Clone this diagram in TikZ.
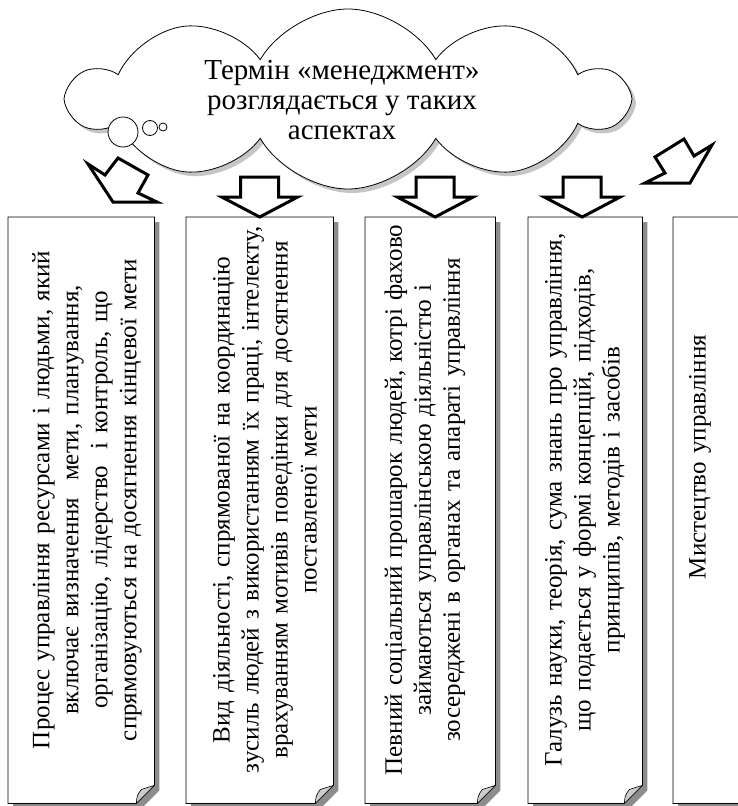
\documentclass[tikz,border=0pt]{standalone}
\usepackage{fontspec}
\setmainfont{Liberation Serif}
\usetikzlibrary{positioning,calc,shapes.symbols,shadows}

\begin{document}
\begin{tikzpicture}[x=1pt,y=-1pt,
    box/.style={minimum height=586, inner sep=0pt, anchor=north west},
    outline/.style={draw=black, line width=0.8pt, fill=white},
    shade/.style={fill=black!45, draw=none},
    flap/.style={draw=black, line width=0.6pt, fill=black!20},
    blockarrow/.style={draw=black, line width=3pt, fill=white, line join=miter},
    bubble/.style={circle, draw=black, line width=0.8pt, fill=white, inner sep=0pt},
    rotext/.style={rotate=90, align=center, text width=570, inner sep=0pt,
                   font=\fontsize{25}{29}\selectfont}]
  \useasboundingbox (0,0) rectangle (738,806);
  \clip (0,0) rectangle (738,806);

  % cloud with the title
  \node[cloud, cloud puffs=10, cloud puff arc=120, cloud ignores aspect,
        minimum width=555, minimum height=180, draw=black, line width=0.8pt,
        fill=white, drop shadow={shadow xshift=4pt, shadow yshift=-4pt, fill=black!45}]
        (cl) at (348,99) {};
  \node[align=center, font=\fontsize{29}{30}\selectfont] (ttl) at ($(cl.center)+(-6,1)$)
        {Термін «менеджмент»\\ розглядається у таких\\ аспектах};
  \node[bubble, minimum size=30] (c1) at (123,132) {};
  \node[bubble, minimum size=15] (c2) at (150,128) {};
  \node[bubble, minimum size=8]  (c3) at (163,127) {};

  % boxes
  \node[box, minimum width=146] (b1) at (8,217)   {};
  \node[box, minimum width=147] (b2) at (186,217) {};
  \node[box, minimum width=130] (b3) at (365,217) {};
  \node[box, minimum width=114] (b4) at (528,217) {};
  \node[box, minimum width=127] (b5) at (673,217) {};

  \foreach \b in {b1,b2,b3,b4,b5}{
    \fill[shade] ($(\b.north west)+(5,5)$) -- ($(\b.north east)+(5,5)$)
        -- ($(\b.south east)+(5,-13)$) -- ($(\b.south east)+(-13,5)$)
        -- ($(\b.south west)+(5,5)$) -- cycle;
    \draw[outline] (\b.north west) -- (\b.north east) -- ($(\b.south east)+(0,-18)$)
        -- ($(\b.south east)+(-18,0)$) -- (\b.south west) -- cycle;
    \draw[flap] ($(\b.south east)+(0,-18)$) -- ($(\b.south east)+(-13,-14)$)
        to[bend right=20] ($(\b.south east)+(-18,0)$) -- cycle;
  }

  % arrows from the cloud
  \draw[blockarrow] (88,164) -- (105,175) -- (118,158) -- (148,175) -- (138,193)
        -- (157,202) -- (113,202) -- cycle;
  \draw[blockarrow] (b2.north) -- ++(38,-20) -- ++(-19,0) -- ++(0,-20) -- ++(-38,0)
        -- ++(0,20) -- ++(-19,0) -- cycle;
  \draw[blockarrow] ($(b3.north)+(5,0)$) -- ++(38,-20) -- ++(-19,0) -- ++(0,-20)
        -- ++(-38,0) -- ++(0,20) -- ++(-19,0) -- cycle;
  \draw[blockarrow] ($(b4.north)+(-3,0)$) -- ++(38,-20) -- ++(-19,0) -- ++(0,-20)
        -- ++(-38,0) -- ++(0,20) -- ++(-19,0) -- cycle;
  \draw[blockarrow] (645,183) -- (665,173) -- (655,157) -- (684,139) -- (694,156)
        -- (712,145) -- (690,183) -- cycle;

  % texts
  \node[rotext] (t1) at (87,500) {Процес управління ресурсами і людьми, який\\
        включає визначення\ \ мети, планування,\\
        організацію, лідерство\ \ і контроль, що\\
        спрямовуються на досягнення кінцевої мети};
  \node[rotext] (t2) at (265,500) {Вид діяльності, спрямованої на координацію\\
        зусиль людей з використанням їх праці, інтелекту,\\
        врахуванням мотивів поведінки для досягнення\\
        поставленої мети};
  \node[rotext] (t3) at (425,500) {Певний соціальний прошарок людей, котрі фахово\\
        займаються управлінською діяльністю і\\
        зосереджені в органах та апараті управління};
  \node[rotext] (t4) at (585,500) {Галузь науки, теорія, сума знань про управління,\\
        що подається у формі концепцій, підходів,\\
        принципів, методів і засобів};
  \node[rotext] (t5) at (700,457) {Мистецтво управління};
\end{tikzpicture}
\end{document}
